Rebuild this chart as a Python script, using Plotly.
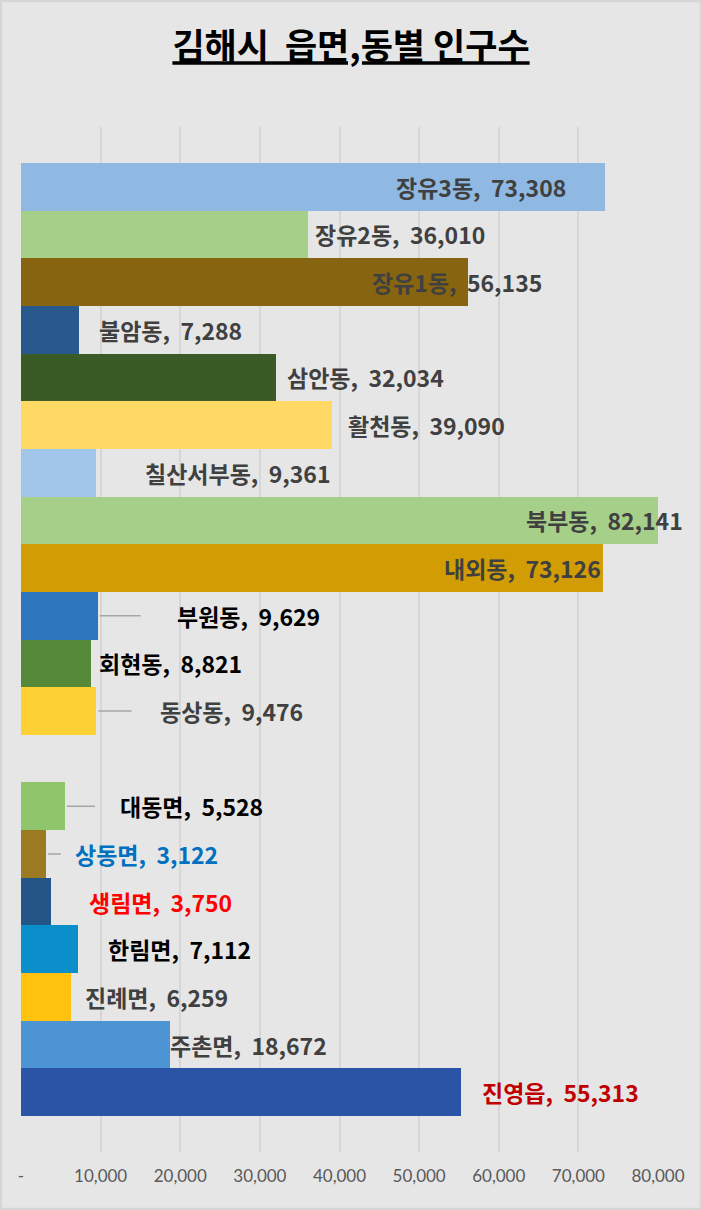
import plotly.graph_objects as go

# 동 (neighbourhoods) and 읍/면 (towns/townships), top to bottom
dong_names = ["장유3동", "장유2동", "장유1동", "불암동", "삼안동", "활천동",
              "칠산서부동", "북부동", "내외동", "부원동", "회현동", "동상동"]
dong_pop = [73308, 36010, 56135, 7288, 32034, 39090,
            9361, 82141, 73126, 9629, 8821, 9476]

eupmyeon_names = ["대동면", "상동면", "생림면", "한림면", "진례면", "주촌면", "진영읍"]
eupmyeon_pop = [5528, 3122, 3750, 7112, 6259, 18672, 55313]

x_ticks = [0, 10000, 20000, 30000, 40000, 50000, 60000, 70000, 80000]
x_ticktext = ["-", "10,000", "20,000", "30,000", "40,000", "50,000",
              "60,000", "70,000", "80,000"]

# one empty slot between the two groups
names = dong_names + [None] + eupmyeon_names
values = dong_pop + [None] + eupmyeon_pop
pos = list(range(len(names)))

bar_colors = ["#8fb8e3", "#a6cf89", "#876510", "#27598c", "#3a5b25", "#ffd964",
              "#a1c6ea", "#a6cf89", "#d29c04", "#2d76bd", "#568a38", "#fdd033",
              "rgba(0,0,0,0)",
              "#8fc56b", "#9b7a22", "#235586", "#0a8fcb", "#ffc20e", "#4c94d4", "#2c54a6"]

# label style: (anchor, pixel offset from bar end, leader line, colour)
GRAY = "#404040"
label_style = [
    ("right", -37, False, GRAY), ("left", 5, False, GRAY), ("left", -98, False, GRAY),
    ("left", 18, False, GRAY), ("left", 9, False, GRAY), ("left", 14, False, GRAY),
    ("left", 47, False, GRAY), ("right", 27, False, GRAY), ("right", 0, False, GRAY),
    ("left", 77, True, "#000000"), ("left", 6, False, "#000000"), ("left", 62, True, GRAY),
    None,
    ("left", 53, True, "#000000"), ("left", 27, True, "#0070c0"), ("left", 36, False, "#ff0000"),
    ("left", 28, False, "#000000"), ("left", 12, False, GRAY), ("left", -2, False, GRAY),
    ("left", 19, False, "#c00000"),
]

x_max = x_ticks[-1]
W, H = 702, 1210
ML, MR, MT, MB = 21, 44, 127, 58

fig = go.Figure(go.Bar(
    x=values, y=pos, orientation="h",
    marker=dict(color=bar_colors, line_width=0),
    width=1, hoverinfo="skip",
))

annotations = []
for name, v, p, st in zip(names, values, pos, label_style):
    if name is None:
        continue
    anchor, off, leader, color = st
    annotations.append(dict(
        x=min(v, x_max), y=p, xref="x", yref="y",
        text="<b>%s,  %s</b>" % (name, format(v, ",")),
        showarrow=True, ax=off, ay=0, axref="pixel", ayref="pixel",
        xanchor=anchor, yanchor="middle",
        arrowhead=0, arrowwidth=1.5,
        arrowcolor="#a6a6a6" if leader else "rgba(0,0,0,0)",
        standoff=2, startstandoff=int(off * 0.45) if leader else 0,
        font=dict(family="Noto Sans CJK KR", size=23, color=color),
    ))

# light outer frame of the chart area
pw, ph = W - ML - MR, H - MT - MB
fig.add_shape(type="rect", xref="paper", yref="paper",
              x0=-(ML - 1) / pw, x1=1 + (MR - 1) / pw,
              y0=-(MB - 1) / ph, y1=1 + (MT - 1) / ph,
              line=dict(color="#d6d6d6", width=2.5), layer="below")

fig.update_layout(
    width=W, height=H,
    margin=dict(l=ML, r=MR, t=MT, b=MB),
    paper_bgcolor="#e6e6e6", plot_bgcolor="#e6e6e6",
    title=dict(
        text="<b><u>김해시  읍면,동별 인구수</u></b>",
        x=0.5, xanchor="center", y=1 - 47 / H, yanchor="middle",
        font=dict(family="Noto Sans CJK KR", size=35, color="#000000"),
    ),
    bargap=0,
    showlegend=False,
    annotations=annotations,
    xaxis=dict(
        range=[0, x_max], tickvals=x_ticks, ticktext=x_ticktext,
        showgrid=True, gridcolor="#d6d6d6", gridwidth=1.5, zeroline=False,
        showline=False, ticks="", ticklabelstandoff=12,
        tickfont=dict(family="Lato", size=17, color="#595959"),
    ),
    yaxis=dict(
        range=[len(pos) - 0.5 + 0.755, -0.5 - 0.755],
        showticklabels=False, showgrid=False, zeroline=False, showline=False,
    ),
)

fig.write_html("out.html", config={"displayModeBar": False},
               post_script="document.body.style.margin='0';")
